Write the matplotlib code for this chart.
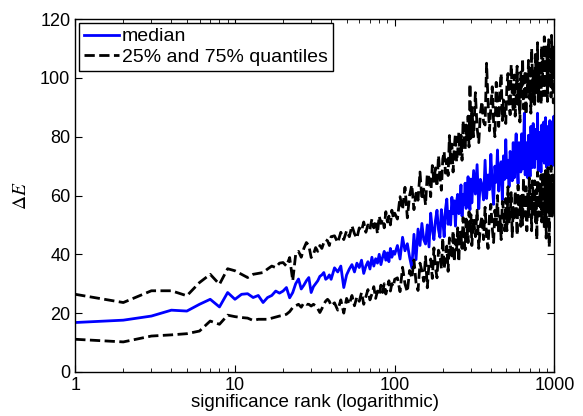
import numpy as np
import matplotlib
matplotlib.use("Agg")
import matplotlib.pyplot as plt

# significance ranks (every rank at the start, thinned out further right)
ranks = np.concatenate([np.arange(1, 41), np.arange(42, 101, 2),
                        np.arange(104, 301, 4), np.arange(304, 1001, 8)])

median = [
    16.8, 17.6, 19.0, 21.0, 20.7, 23.0, 24.7, 22.1, 27.0, 24.7,
    26.4, 26.6, 25.3, 26.0, 23.6, 25.3, 26.0, 27.5, 26.8, 27.5,
    28.7, 25.2, 27.0, 30.0, 31.6, 28.2, 29.5, 31.0, 32.1, 27.0,
    29.0, 30.0, 31.0, 32.5, 33.0, 33.8, 31.5, 32.0, 33.0, 31.5,
    # 42..100
    35.4, 34, 36, 28.7, 33, 35, 36.5, 34, 37, 35.5,
    38, 33.5, 36, 37.5, 35, 39, 36, 38.5, 37, 40,
    36.5, 39, 41, 38, 40.5, 37.5, 42, 39, 41, 40,
    # 104..300
    43, 38.4, 45.8, 41.2, 43.6, 39, 35.4, 46.8, 38.2, 48.6,
    43, 50.5, 45, 43.5, 50, 42.5, 54, 48.5, 45, 51.5,
    55, 48.4, 45.8, 55.2, 51.6, 46, 55.4, 58.8, 50.2, 54.6,
    50, 59.4, 53.8, 58.2, 49.6, 58, 60.4, 53.8, 57.2, 63.6,
    53, 60.4, 56.8, 64.2, 55.6, 61, 66.4, 57.8, 55.2, 65.6,
    # 304..1000
    57.5, 68.5, 60.5, 70.5, 55.5, 65.5, 63.5, 58.5,
    72, 59, 67, 62, 74, 64, 57, 70,
    64.5, 75.5, 61.5, 68.5, 71.5, 58.5, 73.5, 65.5,
    79, 66, 72, 63, 75, 71, 65, 78,
    66, 75, 81, 70, 64, 78, 72, 68,
    81, 69, 76, 88, 67, 78, 71, 66,
    80.5, 74.5, 66.5, 83.5, 77.5, 69.5, 84.5, 72.5,
    69.5, 82.5, 77.5, 72.5, 88, 68.5, 79.5, 81.5,
    75, 68, 84, 79, 72, 85, 71, 81,
    86.5, 73.5, 69.5, 80.5, 83.5, 75.5, 70.5, 85.5,
    73, 85, 79, 70, 83, 75, 87, 72,
]

q75 = [
    26.4, 23.6, 27.6, 27.6, 25.9, 30.4, 33.2, 29.8, 35.1, 34.4,
    33.2, 32.1, 33.2, 33.5, 33.8, 35.0, 36.0, 35.5, 37.0, 37.2,
    36.0, 38.9, 31.0, 40.0, 41.0, 39.0, 42.0, 44.0, 43.0, 38.9,
    40.0, 42.3, 41.0, 43.0, 42.0, 44.0, 45.0, 44.6, 43.0, 46.0,
    # 42..100
    46.3, 44, 47.5, 45, 48, 46, 49.7, 47, 45.5, 49,
    48, 51, 47.5, 50, 48.5, 52, 49, 51.5, 47, 53,
    50.5, 52, 49, 54.5, 51, 53, 50, 55, 52.5, 54,
    # 104..300
    52, 59.6, 55.2, 62.8, 52.4, 60, 63.6, 55.2, 60.8, 58.4,
    68, 58.6, 62.2, 56.8, 67.4, 66, 59.6, 70.2, 64.8, 69.4,
    63, 73.6, 66.2, 61.8, 72.4, 75, 67.6, 72.2, 66.8, 80.4,
    71, 77.5, 68, 76.5, 81, 71.5, 75, 81.5, 74, 80.5,
    72, 85.5, 80, 75.5, 84, 78.5, 87, 76.5, 98, 79.5,
    # 304..1000
    90, 80, 95, 83, 78, 88, 92, 85,
    84, 105, 92, 82, 90, 97, 85, 80,
    98.5, 89.5, 83.5, 96.5, 101.5, 85.5, 92.5, 88.5,
    84.5, 97.5, 101.5, 91.5, 87.5, 104.5, 94.5, 88.5,
    101, 87, 94, 104, 91, 98, 85, 102,
    93.5, 106.5, 89.5, 98.5, 102.5, 87.5, 100.5, 95.5,
    106, 93, 99, 88, 110, 101, 92, 103,
    91, 108, 101, 95, 112, 92, 98, 105,
    104, 91, 111, 97, 107, 94, 114, 98,
    94, 106, 111, 92, 103, 113, 97, 109,
    107.5, 93.5, 114.5, 96.5, 104.5, 91.5, 110.5, 102.5,
]

q25 = [
    11.1, 10.2, 12.2, 12.6, 13.0, 13.9, 17.3, 16.2, 19.3, 18.8,
    18.5, 18.3, 17.5, 17.9, 17.9, 17.9, 18.3, 18.7, 19.0, 19.2,
    19.6, 20.5, 21.9, 22.5, 23.0, 22.0, 23.5, 23.0, 23.0, 22.4,
    23.0, 22.4, 21.5, 20.2, 21.5, 23.0, 24.1, 24.7, 24.0, 22.5,
    # 42..100
    23.5, 21, 24.5, 20, 25, 23, 26, 22.5, 25.5, 24,
    27, 23, 25.5, 28, 24.5, 26.5, 29, 25, 27.5, 26,
    29.5, 27, 30, 26.5, 28.5, 31, 27.5, 30, 29, 31.5,
    # 104..300
    32, 27.3, 35.6, 29.9, 27.2, 34.5, 31.8, 38.1, 30.4, 27.7,
    37, 34.4, 30.8, 39.2, 28.6, 37, 38.4, 31.8, 42.2, 35.6,
    32, 41.4, 39.8, 35.2, 45.6, 35, 39.4, 42.8, 34.2, 45.6,
    42, 38.5, 48, 37.5, 45, 41.5, 49, 37.5, 48, 46.5,
    42, 52.5, 45, 41.5, 52, 48.5, 44, 54.5, 47, 53.5,
    # 304..1000
    43, 52, 46, 55, 42, 50, 53, 45,
    56, 46, 42, 53, 57, 49, 44, 55,
    50, 60, 47, 53, 45, 58, 55, 48,
    59, 48, 63, 51, 53, 61, 46, 56,
    51.5, 61.5, 56.5, 46.5, 63.5, 53.5, 59.5, 49.5,
    60, 50, 66, 53, 58, 63, 48, 61,
    52, 66, 55, 60, 48, 65, 59, 53,
    65, 51, 62, 45, 68, 57, 53, 64,
    56, 67, 51, 62, 68, 55, 49, 66,
    68.5, 45.5, 63.5, 54.5, 69.5, 57.5, 42.5, 65.5,
    56, 70, 59, 53, 67, 62, 54, 65,
]

plt.rcParams['font.family'] = ['Liberation Sans', 'DejaVu Sans']
plt.rcParams['mathtext.fontset'] = 'stix'

fig = plt.figure(figsize=(5.83, 4.16), dpi=100)
ax = fig.add_axes([0.129, 0.106, 0.822, 0.848])

ax.plot(ranks, median, color='blue', lw=2, label='median')
ax.plot(ranks, q75, 'k--', lw=2, label='25% and 75% quantiles')
ax.plot(ranks, q25, 'k--', lw=2)

ax.set_xscale('log')
ax.set_xlim(1, 1000)
ax.set_ylim(0, 120)
ax.set_xticks([1, 10, 100, 1000])
ax.set_xticklabels(['1', '10', '100', '1000'])
ax.set_yticks(range(0, 121, 20))
ax.tick_params(which='both', direction='in', top=True, right=True, labelsize=13)
ax.tick_params(which='major', length=5)
ax.tick_params(which='minor', length=3)
for s in ax.spines.values():
    s.set_linewidth(1.0)

ax.set_xlabel('significance rank (logarithmic)', fontsize=13.5, labelpad=0)
ax.set_ylabel(r'$\Delta E$', fontsize=14, labelpad=7)

leg = ax.legend(loc='upper left', fontsize=14, fancybox=False, framealpha=1,
                edgecolor='black', borderaxespad=0.2, handlelength=1.8,
                handletextpad=0.15, borderpad=0.25, labelspacing=0.15)
leg.get_frame().set_linewidth(1.0)

fig.savefig('out.png', dpi=100)
